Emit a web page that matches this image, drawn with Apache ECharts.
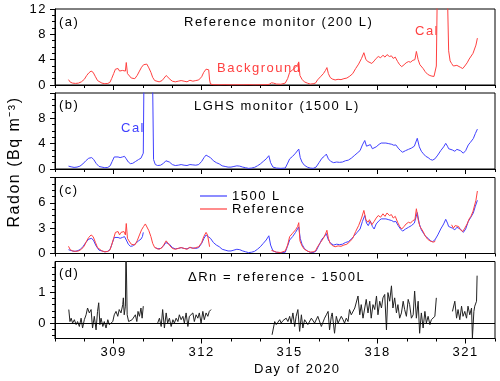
<!DOCTYPE html>
<html>
<head>
<meta charset="utf-8">
<script src="https://cdn.jsdelivr.net/npm/echarts@6/dist/echarts.min.js"></script>
<style>
html, body { margin: 0; padding: 0; background: #fff; }
#chart { width: 500px; height: 381px; }
</style>
</head>
<body>
<div id="chart"></div>
<script>
// reference monitor (200 L), [day, Bq m-3]
var refData = [
  [307.46,0.85],[307.52,0.45],[307.6,0.3],[307.7,0.25],[307.8,0.3],[307.9,0.5],[308.0,0.9],[308.08,1.5],
  [308.15,1.9],[308.23,2.2],[308.3,2.0],[308.38,1.3],[308.45,0.7],[308.5,0.5],[308.6,0.3],[308.7,0.2],
  [308.8,0.25],[308.87,0.4],[308.93,1.0],[309.0,1.8],[309.06,2.5],[309.1,2.3],[309.15,2.6],[309.2,2.2],
  [309.25,2.5],[309.3,2.3],[309.35,2.6],[309.4,2.2],[309.43,3.55],[309.47,1.8],[309.52,1.5],[309.6,1.1],
  [309.65,0.9],[309.72,1.0],[309.8,1.5],[309.88,2.2],[309.95,2.8],[310.02,3.2],[310.08,3.5],[310.13,3.3],
  [310.2,2.7],[310.27,2.0],[310.33,1.2],[310.4,0.7],[310.45,0.5],[310.55,0.5],[310.65,0.7],[310.72,1.1],
  [310.79,1.5],[310.85,1.3],[310.92,0.9],[311.0,0.6],[311.1,0.5],[311.2,0.6],[311.3,0.7],[311.4,0.6],
  [311.5,0.5],[311.6,0.75],[311.7,0.6],[311.8,0.7],[311.9,0.8],[312.0,1.3],[312.07,2.0],[312.15,2.5],
  [312.2,2.2],[312.24,2.4],[312.27,0.8],[312.3,0.15],[312.4,0.05],[312.6,0.03],[312.8,0.05],[313.0,0.02],
  [313.2,0.04],[313.4,0.03],[313.6,0.05],[313.8,0.02],[314.0,0.04],[314.2,0.05],[314.3,0.1],[314.38,0.35],
  [314.45,0.3],[314.55,0.15],[314.7,0.12],[314.85,0.3],[314.93,1.0],[315.0,2.0],[315.1,2.4],[315.2,2.8],
  [315.27,3.2],[315.31,3.65],[315.35,1.5],[315.42,0.9],[315.5,0.5],[315.6,0.3],[315.7,0.15],[315.8,0.2],
  [315.88,0.3],[315.95,0.8],[316.05,1.3],[316.15,1.8],[316.22,2.3],[316.27,2.75],[316.32,1.8],[316.38,1.2],
  [316.45,0.95],[316.55,0.8],[316.65,0.9],[316.75,0.85],[316.85,1.0],[316.95,1.1],[317.05,1.4],[317.15,1.8],
  [317.25,2.6],[317.35,3.3],[317.45,4.2],[317.53,5.1],[317.6,4.0],[317.67,3.7],[317.72,4.0],[317.8,3.4],
  [317.88,3.8],[317.95,4.2],[318.02,4.5],[318.1,4.3],[318.18,4.7],[318.25,4.4],[318.32,4.8],[318.4,4.5],
  [318.47,4.6],[318.53,4.2],[318.6,4.4],[318.68,3.7],[318.75,3.2],[318.82,2.9],[318.9,3.2],[318.97,3.5],
  [319.05,3.7],[319.12,3.6],[319.2,3.9],[319.27,4.0],[319.32,5.3],[319.38,4.0],[319.44,3.2],[319.5,3.3],
  [319.55,2.6],[319.62,2.1],[319.7,1.7],[319.78,1.5],[319.85,1.4],[319.92,1.35],[319.97,1.5],[320.0,3.0],
  [320.03,14],[320.38,14],[320.42,5.4],[320.47,3.8],[320.52,3.4],[320.58,3.0],[320.64,3.3],[320.7,3.1],
  [320.76,3.2],[320.82,2.8],[320.9,2.6],[320.97,3.0],[321.05,3.5],[321.12,4.1],[321.18,4.4],[321.25,5.0],
  [321.3,5.2],[321.35,6.3],[321.4,7.4]
];

// LGHS monitor (1500 L)
var lghsData = [
  [307.46,0.45],[307.55,0.35],[307.65,0.25],[307.75,0.3],[307.85,0.45],[307.95,0.8],[308.05,1.3],[308.15,1.7],
  [308.25,1.8],[308.32,1.5],[308.4,0.9],[308.5,0.4],[308.6,0.3],[308.7,0.2],[308.8,0.25],[308.88,0.5],
  [308.95,1.2],[309.02,1.9],[309.08,2.1],[309.15,1.9],[309.22,1.8],[309.3,1.9],[309.37,2.0],[309.43,1.6],
  [309.5,1.1],[309.57,0.85],[309.65,0.9],[309.75,1.2],[309.85,1.5],[309.93,1.7],[309.98,2.0],[310.01,2.5],
  [310.03,13],[310.33,13],[310.36,1.5],[310.42,0.7],[310.5,0.55],[310.6,0.6],[310.7,0.9],[310.78,1.3],
  [310.84,1.45],[310.9,1.1],[311.0,0.7],[311.1,0.55],[311.2,0.6],[311.3,0.7],[311.4,0.6],[311.5,0.55],
  [311.6,0.7],[311.7,0.65],[311.8,0.6],[311.9,0.7],[312.0,1.2],[312.08,1.8],[312.15,2.2],[312.22,2.0],
  [312.3,1.8],[312.4,1.3],[312.5,1.0],[312.6,0.8],[312.7,0.5],[312.8,0.4],[312.9,0.3],[313.0,0.3],
  [313.1,0.4],[313.2,0.5],[313.3,0.45],[313.4,0.3],[313.5,0.2],[313.6,0.1],[313.7,0.15],[313.8,0.25],
  [313.9,0.5],[314.0,0.8],[314.1,1.2],[314.2,1.6],[314.29,2.1],[314.35,1.0],[314.43,0.3],[314.55,0.15],
  [314.7,0.1],[314.85,0.15],[314.92,0.8],[315.0,1.6],[315.1,2.0],[315.2,2.5],[315.31,3.15],[315.36,1.8],
  [315.42,1.1],[315.5,0.6],[315.6,0.3],[315.7,0.15],[315.8,0.1],[315.9,0.3],[316.0,1.0],[316.1,1.7],
  [316.18,2.0],[316.25,2.35],[316.32,1.6],[316.4,1.2],[316.5,1.0],[316.6,1.1],[316.7,1.05],[316.8,1.1],
  [316.9,1.3],[317.0,1.4],[317.1,1.7],[317.2,2.1],[317.3,2.5],[317.4,2.9],[317.48,3.8],[317.56,4.5],
  [317.62,3.6],[317.68,3.3],[317.75,3.85],[317.82,3.2],[317.88,2.9],[317.95,3.5],[318.05,3.9],[318.12,4.1],
  [318.18,4.3],[318.28,4.1],[318.38,4.0],[318.48,3.9],[318.55,3.75],[318.62,3.8],[318.7,3.3],[318.78,2.9],
  [318.85,2.65],[318.95,2.9],[319.05,3.1],[319.15,3.3],[319.25,3.6],[319.35,4.85],[319.42,3.5],[319.49,2.8],
  [319.56,2.4],[319.64,2.0],[319.72,1.8],[319.8,1.5],[319.87,1.4],[319.95,1.6],[320.05,2.2],[320.15,2.9],
  [320.25,3.5],[320.32,4.05],[320.38,3.6],[320.42,3.2],[320.48,3.3],[320.55,3.0],[320.63,2.8],[320.7,3.1],
  [320.75,3.2],[320.82,2.9],[320.92,2.5],[321.0,2.9],[321.09,3.8],[321.16,4.2],[321.26,4.8],[321.33,5.6],
  [321.4,6.3]
];

// difference reference - 1500L, four pieces
var diffSeg1 = [
  [307.47,0.44],[307.51,0.05],[307.55,0.16],[307.6,0],[307.66,0.11],[307.72,-0.05],[307.77,0.05],[307.83,-0.11],
  [307.89,0.16],[307.94,-0.16],[308.0,0.11],[308.06,0.27],[308.11,0.49],[308.17,0.33],[308.23,0.44],[308.28,-0.16],
  [308.34,0.22],[308.4,-0.22],[308.45,0.38],[308.49,0.66],[308.53,-0.05],[308.57,0.16],[308.63,-0.11],[308.68,0.05],
  [308.74,-0.16],[308.8,0.11],[308.85,-0.05],[308.91,0],[308.97,0.05],[309.02,0.27],[309.08,0.38],[309.14,0.22],
  [309.19,0.44],[309.25,0.33],[309.31,0.6],[309.33,0.82],[309.36,0.27],[309.4,0.55],[309.42,2.6],[309.46,0.27],
  [309.51,0.05],[309.57,0],[309.63,0.11],[309.68,0.05],[309.74,0.27],[309.79,0.05],[309.83,0.38],[309.88,0.22],
  [309.93,0.49],[309.97,0.16],[310.01,0.55]
];
var diffSeg2 = [
  [310.5,0],[310.56,0.16],[310.62,-0.11],[310.67,0.44],[310.73,-0.16],[310.79,0.33],[310.84,0],[310.9,0.16],
  [310.96,-0.11],[311.02,0.11],[311.07,0],[311.13,0.16],[311.19,0.05],[311.24,0.27],[311.3,0.11],[311.36,0.22],
  [311.41,0],[311.47,0.33],[311.53,-0.11],[311.58,0.22],[311.64,0.16],[311.7,0.33],[311.75,0.05],[311.81,0.27],
  [311.87,0.16],[311.92,0.33],[311.98,0],[312.04,0.38],[312.09,0.11],[312.15,0.33],[312.21,0.22],[312.26,0.38],
  [312.32,0.44]
];
var diffSeg3 = [
  [314.4,-0.38],[314.49,0.05],[314.54,-0.05],[314.6,0.03],[314.66,0.11],[314.71,0],[314.77,0.08],[314.83,0.02],
  [314.88,0.16],[314.94,0.05],[315.0,0.22],[315.05,0],[315.11,0.33],[315.17,-0.11],[315.22,0.22],[315.28,0.44],
  [315.34,-0.27],[315.4,0.27],[315.45,-0.16],[315.51,0.11],[315.57,0.16],[315.62,-0.05],[315.68,0],[315.74,0.16],
  [315.79,0.22],[315.85,0],[315.91,0.05],[315.96,0.22],[316.02,0.16],[316.08,-0.11],[316.14,-0.05],[316.19,0.16],
  [316.25,0.27],[316.31,0.38],[316.36,-0.22],[316.42,0.22],[316.45,0.33],[316.53,-0.33],[316.59,0.22],[316.65,0],
  [316.7,0.05],[316.76,0.22],[316.82,0.11],[316.87,0],[316.93,0.16],[316.99,0.05],[317.04,0.44],[317.1,0.27],
  [317.16,0.33],[317.22,0.49],[317.27,0.55],[317.33,0.88],[317.39,0.27],[317.44,0.6],[317.5,0.16],[317.56,0.49],
  [317.61,0.77],[317.67,0.33],[317.73,0.71],[317.78,0.16],[317.84,0.6],[317.9,0.44],[317.96,0.88],[318.01,0.27],
  [318.07,0.71],[318.13,0.49],[318.18,0.82],[318.24,0.93],[318.3,-0.22],[318.35,0.99],[318.41,0.71],[318.47,1.21],
  [318.52,0.49],[318.58,0.82],[318.64,0.33],[318.69,0.6],[318.75,0.16],[318.81,0.33],[318.87,0.71],[318.92,0.44],
  [318.98,0.22],[319.04,0.77],[319.09,0.6],[319.15,0.16],[319.21,0.27],[319.26,1.04],[319.32,0.16],[319.38,0.71],
  [319.43,-0.33],[319.49,0.33],[319.55,-0.16],[319.61,0.38],[319.66,0],[319.72,0.22],[319.78,-0.05],[319.83,0.11],
  [319.89,0.05],[319.95,0.22],[320.0,0.82]
];
var diffSeg4 = [
  [320.55,0.38],[320.63,0.71],[320.69,0.16],[320.74,0.44],[320.8,0.11],[320.86,0.55],[320.91,0.22],[320.97,0.38],
  [321.03,0.16],[321.08,0.55],[321.14,0.27],[321.2,0.49],[321.23,-0.48],[321.28,0.38],[321.31,0.55],[321.37,0.71],
  [321.39,1.54]
];

// days the reference / LGHS were off line in panel (c)
var refGaps = [[312.28, 314.37], [319.99, 320.5]];
var lghsGaps = [[310.02, 310.4]];

var majorDays = [309, 312, 315, 318, 321];
var dMinorTicks = [-0.4, -0.2, 0.2, 0.4, 0.6, 0.8, 1.2, 1.4, 1.6, 1.8];

var red = '#ff4040';
var blue = '#4040ff';
var font = 'Liberation Sans, Arial, sans-serif';

// origin-like spaced lettering
var _fillText = CanvasRenderingContext2D.prototype.fillText;
CanvasRenderingContext2D.prototype.fillText = function () {
  this.letterSpacing = '1.5px';
  return _fillText.apply(this, arguments);
};

function cut(data, gaps) {
  return data.map(function (p) {
    for (var i = 0; i < gaps.length; i++) {
      if (p[0] >= gaps[i][0] && p[0] <= gaps[i][1]) return [p[0], null];
    }
    return p;
  });
}

var diffData = diffSeg1.concat([[310.25, null]], diffSeg2, [[313.3, null]], diffSeg3, [[320.3, null]], diffSeg4);

var grids = [
  {left: 55, right: 5, top: 9, height: 76},
  {left: 55, right: 5, top: 93, height: 76},
  {left: 55, right: 5, top: 177.5, height: 76},
  {left: 55, right: 5, top: 261.5, height: 77}
];
grids.forEach(function (g) {
  g.show = true;
  g.borderColor = '#000';
  g.borderWidth = 1;
});

var axisText = {color: '#000', fontSize: 13, fontFamily: font};

var xAxes = [];
grids.forEach(function (g, i) {
  // every day, short ticks
  xAxes.push({
    gridIndex: i, type: 'value', position: 'bottom', min: 307, max: 322, interval: 1,
    axisLine: {onZero: false, lineStyle: {color: '#000', width: 1}},
    axisTick: {length: 3, lineStyle: {color: '#000'}},
    axisLabel: {show: false},
    splitLine: {show: false}
  });
  // every 3 days, long ticks + labels on the bottom panel
  xAxes.push({
    gridIndex: i, type: 'value', position: 'bottom', min: 307, max: 322,
    axisLine: {show: false, onZero: false},
    axisTick: {length: 5, customValues: majorDays, lineStyle: {color: '#000'}},
    axisLabel: Object.assign({show: i === 3, customValues: majorDays, margin: 7}, axisText),
    splitLine: {show: false}
  });
});

function yAxis(i, max, interval, showMax) {
  return {
    gridIndex: i, type: 'value', position: 'left', min: 0, max: max, interval: interval,
    axisLine: {show: true, lineStyle: {color: '#000'}},
    axisTick: {show: true, length: 5, lineStyle: {color: '#000'}},
    minorTick: {show: true, splitNumber: 4, length: 3, lineStyle: {color: '#000'}},
    axisLabel: Object.assign({margin: 8, showMaxLabel: showMax}, axisText),
    splitLine: {show: false}
  };
}

var yAxes = [
  yAxis(0, 12, 4, true),
  yAxis(1, 12, 4, false),
  yAxis(2, 9, 3, false),
  {
    gridIndex: 3, type: 'value', position: 'left', min: -0.5, max: 2,
    axisLine: {show: true, lineStyle: {color: '#000'}},
    axisTick: {length: 5, customValues: [0, 1], lineStyle: {color: '#000'}},
    axisLabel: Object.assign({margin: 8, customValues: [0, 1]}, axisText),
    splitLine: {show: false}
  },
  {
    gridIndex: 3, type: 'value', position: 'left', min: -0.5, max: 2,
    axisLine: {show: false},
    axisTick: {length: 3, customValues: dMinorTicks, lineStyle: {color: '#000'}},
    axisLabel: {show: false},
    splitLine: {show: false}
  }
];

function line(name, data, color, xi, yi) {
  return {
    name: name, type: 'line', data: data, xAxisIndex: xi, yAxisIndex: yi,
    symbol: 'none', clip: true, connectNulls: false, animation: false,
    lineStyle: {color: color, width: 1}, itemStyle: {color: color}
  };
}

var series = [
  line('ref200', refData, red, 0, 0),
  line('lghs', lghsData, blue, 2, 1),
  line('1500 L', cut(lghsData, lghsGaps), blue, 4, 2),
  line('Reference', cut(refData, refGaps), red, 4, 2),
  line('diff', diffData, '#222', 6, 3)
];
series[4].markLine = {
  silent: true, symbol: 'none', animation: false,
  label: {show: false},
  lineStyle: {color: '#000', type: 'solid', width: 1},
  data: [{yAxis: 0}]
};

function txt(x, y, text, color, size) {
  return {
    type: 'text', x: x, y: y, silent: true,
    style: {text: text, fill: color || '#000', font: (size || 13) + 'px ' + font, align: 'left', verticalAlign: 'middle'}
  };
}

var graphics = [
  txt(59, 22, '(a)'),
  txt(184, 22.5, 'Reference monitor (200 L)'),
  txt(415, 31, 'Cal', red),
  txt(217, 68.5, 'Background', red),
  txt(59, 105, '(b)'),
  txt(194, 106.5, 'LGHS monitor (1500 L)'),
  txt(121, 128.5, 'Cal', blue),
  txt(59, 190, '(c)'),
  txt(59, 273, '(d)'),
  txt(188, 277.5, 'ΔRn = reference - 1500L'),
  txt(254, 369, 'Day of 2020'),
  {
    type: 'text', x: 15, y: 162, rotation: Math.PI / 2, silent: true,
    style: {text: 'Radon (Bq m⁻³)', fill: '#000', font: '16px ' + font, align: 'center', verticalAlign: 'middle'}
  }
];

var chart = echarts.init(document.getElementById('chart'), null, {renderer: 'canvas'});
chart.setOption({
  animation: false,
  backgroundColor: '#fff',
  grid: grids,
  xAxis: xAxes,
  yAxis: yAxes,
  legend: {
    data: ['1500 L', 'Reference'],
    orient: 'vertical', left: 195, top: 184.5,
    icon: 'rect', itemWidth: 27, itemHeight: 1.2, itemGap: 0,
    textStyle: {color: '#000', fontSize: 13, fontFamily: font},
    selectedMode: false
  },
  series: series,
  graphic: graphics
});
</script>
</body>
</html>
